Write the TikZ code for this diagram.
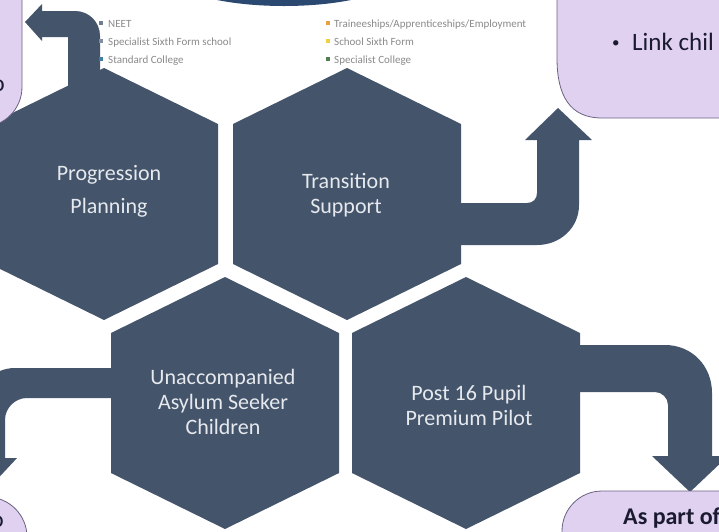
\documentclass[tikz,border=0pt]{standalone}
\usepackage{fontspec}
\setmainfont{Carlito}
\definecolor{hexblue}{HTML}{44546A}
\definecolor{hextxt}{HTML}{E6E9EE}
\definecolor{boxfill}{HTML}{E1D1F1}
\definecolor{boxline}{HTML}{6A6282}
\definecolor{smallgrey}{HTML}{8A8A8A}
\definecolor{topblue}{HTML}{2A4870}
\definecolor{bulA}{HTML}{6E7F91}
\definecolor{bulB}{HTML}{8090A0}
\definecolor{bulC}{HTML}{3F7FA0}
\definecolor{bulD}{HTML}{E8A040}
\definecolor{bulE}{HTML}{EED040}
\definecolor{bulF}{HTML}{508050}
\definecolor{darktext}{HTML}{1A1A30}
\tikzset{
  hexshape/.style={fill=hexblue, draw=none},
  arrowshape/.style={fill=hexblue, draw=none},
  hextext/.style={text=hextxt, align=center, font=\fontsize{22}{25}\selectfont, inner sep=0pt},
  purplebox/.style={fill=boxfill, draw=boxline, line width=0.8pt},
  smalltext/.style={text=smallgrey, font=\fontsize{11}{13}\selectfont, anchor=base west, inner sep=0pt},
  smallbullet/.style={rectangle, minimum size=3.2pt, inner sep=0pt, draw=none},
  boxtext/.style={text=darktext, font=\fontsize{24}{28}\selectfont, inner sep=0pt},
}
\begin{document}
\begin{tikzpicture}[x=1pt,y=-1pt]
\useasboundingbox (0,0) rectangle (719,531);
\clip (0,0) rectangle (719,531);
\fill[white] (0,0) rectangle (719,531);

% top ellipse
\fill[topblue] (284,-28) ellipse [x radius=118, y radius=34];

% hexagons
\foreach \cx/\cy in {104/194, 347/194, 225/403, 466/403}{
  \fill[hexshape, shift={(\cx,\cy)}] (0,-126) -- (114,-70) -- (114,70) -- (0,126) -- (-114,70) -- (-114,-70) -- cycle;
}

% arrow A (up then left)
\fill[arrowshape] (68,130) -- (68,37) -- (42,37) -- (42,41) -- (25,22) -- (42,4) -- (42,11) -- (75,11)
   .. controls (89,11) and (100,22) .. (100,36) -- (100,130) -- cycle;
% arrow B (right then up)
\fill[arrowshape] (440,203) -- (527,203) .. controls (533,203) and (537,199) .. (537,193) -- (537,140)
   -- (525,140) -- (558,108) -- (592,140) -- (579,140) -- (579,205)
   .. controls (579,228) and (560,245) .. (537,245) -- (440,245) -- cycle;
% arrow C (left then down)
\fill[arrowshape] (130,368) -- (15,368) .. controls (-7,368) and (-25,386) .. (-25,408) -- (-25,458)
   -- (-37,458) -- (-10,487) -- (17,458) -- (5,458) -- (5,420)
   .. controls (5,408) and (15,398) .. (27,398) -- (130,398) -- cycle;
% arrow D (right then down)
\fill[arrowshape] (560,345) -- (665,345) .. controls (692,345) and (712,366) .. (712,393) -- (712,456)
   -- (728,456) -- (690,492) -- (652,456) -- (668,456) -- (668,405)
   .. controls (668,398) and (662,392) .. (655,392) -- (560,392) -- cycle;

% hexagon labels
\node[hextext] (pp) at (109,191) {Progression\\[8pt]Planning};
\node[hextext] (ts) at (346,195) {Transition\\Support};
\node[hextext] (uasc) at (223,402) {Unaccompanied\\Asylum Seeker\\Children};
\node[hextext] (ppp) at (469,405) {Post 16 Pupil\\Premium Pilot};

% purple boxes
\draw[purplebox, rounded corners=40] (-100,-50) rectangle (22,127);
\draw[purplebox] (900,-50) -- (557,-50) -- (557,58) .. controls (557,96) and (570,118) .. (602,118) -- (900,118) -- cycle;
\draw[purplebox, rounded corners=40] (-100,497) rectangle (27,650);
\draw[purplebox, rounded corners=40] (562,491) rectangle (900,650);

\node[boxtext, anchor=base east] (tlfrag) at (5,91) {to};
\node[boxtext, anchor=base east] (blfrag) at (4,527) {to};
\node[boxtext, anchor=base west, font=\fontsize{15}{18}\selectfont] (trbul) at (612,47) {•};
\node[boxtext, anchor=base west, font=\fontsize{25}{28}\selectfont] (trtext) at (632,50) {Link chil};
\node[boxtext, anchor=base west, font=\fontsize{24}{28}\selectfont\bfseries] (brtext) at (623,524) {As part of};

% small bullet lists
\node[smallbullet, fill=bulA] (b1) at (101,23) {};
\node[smalltext] (t1) at (108,27) {NEET};
\node[smallbullet, fill=bulB] (b2) at (101,41) {};
\node[smalltext] (t2) at (108,45) {Specialist Sixth Form school};
\node[smallbullet, fill=bulC] (b3) at (101,59) {};
\node[smalltext] (t3) at (108,63) {Standard College};
\node[smallbullet, fill=bulD] (b4) at (328,23) {};
\node[smalltext] (t4) at (334,27) {Traineeships/Apprenticeships/Employment};
\node[smallbullet, fill=bulE] (b5) at (328,41) {};
\node[smalltext] (t5) at (334,45) {School Sixth Form};
\node[smallbullet, fill=bulF] (b6) at (328,59) {};
\node[smalltext] (t6) at (334,63) {Specialist College};
\end{tikzpicture}
\end{document}
